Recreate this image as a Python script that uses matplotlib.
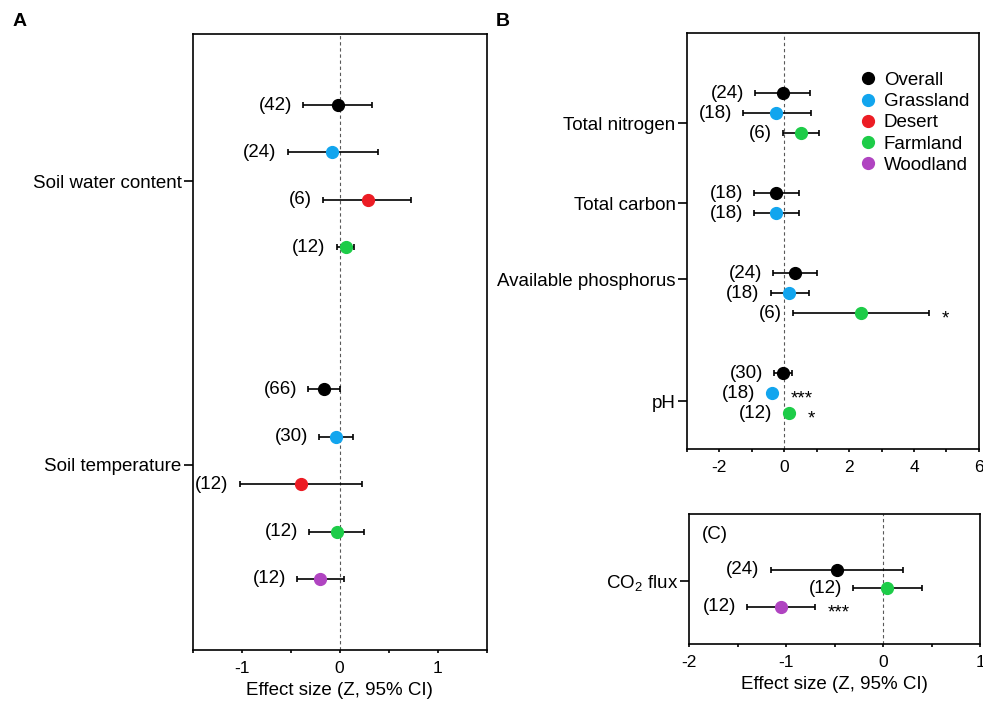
import numpy as np
import matplotlib
matplotlib.use('Agg')
import matplotlib.pyplot as plt
from matplotlib.lines import Line2D
from matplotlib.ticker import MultipleLocator

plt.rcParams['font.family'] = ['Liberation Sans', 'DejaVu Sans']
plt.rcParams['mathtext.default'] = 'regular'
plt.rcParams['axes.unicode_minus'] = False

colors = {'Overall': '#000000', 'Grassland': '#12A5EE', 'Desert': '#EC1C24',
          'Farmland': '#1DCC48', 'Woodland': '#B044C1'}

# ---- panel A ----
a_vars = ['Soil water content'] * 4 + ['Soil temperature'] * 5
a_groups = ['Overall', 'Grassland', 'Desert', 'Farmland',
            'Overall', 'Grassland', 'Desert', 'Farmland', 'Woodland']
a_n = [42, 24, 6, 12, 66, 30, 12, 12, 12]
a_mean = [-0.02, -0.08, 0.29, 0.06, -0.16, -0.04, -0.39, -0.03, -0.20]
a_lo = [-0.37, -0.53, -0.17, -0.03, -0.32, -0.21, -1.02, -0.31, -0.43]
a_hi = [0.33, 0.39, 0.73, 0.15, 0.00, 0.14, 0.23, 0.25, 0.04]
a_sig = [''] * 9

# ---- panel B ----
b_vars = ['Total nitrogen'] * 3 + ['Total carbon'] * 2 + ['Available phosphorus'] * 3 + ['pH'] * 3
b_groups = ['Overall', 'Grassland', 'Farmland', 'Overall', 'Grassland',
            'Overall', 'Grassland', 'Farmland', 'Overall', 'Grassland', 'Farmland']
b_n = [24, 18, 6, 18, 18, 24, 18, 6, 30, 18, 12]
b_mean = [-0.03, -0.24, 0.51, -0.24, -0.24, 0.34, 0.16, 2.36, -0.04, -0.37, 0.16]
b_lo = [-0.89, -1.27, -0.03, -0.93, -0.93, -0.34, -0.42, 0.28, -0.30, -0.37, 0.16]
b_hi = [0.80, 0.82, 1.07, 0.47, 0.47, 1.02, 0.76, 4.46, 0.24, -0.37, 0.16]
b_sig = ['', '', '', '', '', '', '', '*', '', '***', '*']

# ---- panel C ----
c_vars = ['CO$_2$ flux'] * 3
c_groups = ['Overall', 'Farmland', 'Woodland']
c_n = [24, 12, 12]
c_mean = [-0.47, 0.04, -1.05]
c_lo = [-1.16, -0.31, -1.40]
c_hi = [0.21, 0.40, -0.70]
c_sig = ['', '', '***']

MS = 8.5
FS = 13.5


def forest(ax, vars_, groups, n, mean, lo, hi, sig, tick_shift, gap=3):
    # row positions from top to bottom, bigger gap between variables
    ys = []
    y = 0
    prev = None
    for v in vars_:
        if prev is not None:
            y -= 1 if v == prev else gap
        ys.append(y)
        prev = v
    ys = np.array(ys) - min(ys) + 1

    ax.axvline(0, color='0.35', lw=0.8, ls=(0, (3, 2.5)), zorder=1)
    for i in range(len(mean)):
        c = colors[groups[i]]
        ax.errorbar(mean[i], ys[i], xerr=[[mean[i] - lo[i]], [hi[i] - mean[i]]], fmt='none',
                    ecolor='k', elinewidth=1.2, capsize=2.3, capthick=1.2, zorder=2)
        ax.plot(mean[i], ys[i], 'o', color=c, mec=c, ms=MS, zorder=3)
        no_ci = hi[i] == lo[i]
        off = 8 + (MS / 2 if no_ci else 0)
        ax.annotate('(%d)' % n[i], xy=(lo[i], ys[i]), xytext=(-off, 0), textcoords='offset points',
                    ha='right', va='center', fontsize=FS)
        if sig[i]:
            ax.annotate(sig[i], xy=(hi[i], ys[i]), xytext=(off + 1, -7.5), textcoords='offset points',
                        ha='left', va='baseline', fontsize=FS)

    names = list(dict.fromkeys(vars_))
    ticks = [ys[[j for j, v in enumerate(vars_) if v == nm]].mean() + s
             for nm, s in zip(names, tick_shift)]
    ax.set_yticks(ticks)
    ax.set_yticklabels(names, fontsize=FS)
    ax.tick_params(axis='y', length=6.5, width=1.2, pad=1.5)
    ax.tick_params(axis='x', which='both', length=2.5, width=1.2, labelsize=12.5, pad=5.5)
    for sp in ax.spines.values():
        sp.set_linewidth(1.2)


fig = plt.figure(figsize=(9.83, 7.01), dpi=100)
axA = fig.add_axes([0.196, 0.0728, 0.299, 0.8787])
axB = fig.add_axes([0.6986, 0.359, 0.2973, 0.5935])
axC = fig.add_axes([0.701, 0.0813, 0.296, 0.1855])

forest(axA, a_vars, a_groups, a_n, a_mean, a_lo, a_hi, a_sig, [-0.11, 0.41])
axA.set_xlim(-1.5, 1.5)
axA.set_ylim(-0.5, 12.5)
axA.xaxis.set_major_locator(MultipleLocator(1))
axA.xaxis.set_minor_locator(MultipleLocator(0.5))
axA.set_xlabel('Effect size (Z, 95% CI)', fontsize=FS, labelpad=4)

forest(axB, b_vars, b_groups, b_n, b_mean, b_lo, b_hi, b_sig, [-0.5, 0.0, 0.7, -0.4])
axB.set_xlim(-3, 6)
axB.set_ylim(-0.8, 20)
axB.xaxis.set_major_locator(MultipleLocator(2))
axB.xaxis.set_minor_locator(MultipleLocator(1))
handles = [Line2D([], [], marker='o', ls='none', color=c, mec=c, ms=MS) for c in colors.values()]
axB.legend(handles, list(colors.keys()), loc='upper left', bbox_to_anchor=(0.54, 0.93),
           frameon=False, fontsize=FS, handletextpad=0.1, labelspacing=0.22, borderpad=0,
           handlelength=1.5)

forest(axC, c_vars, c_groups, c_n, c_mean, c_lo, c_hi, c_sig, [0.4])
axC.set_xlim(-2, 1)
axC.set_ylim(-1, 6)
axC.xaxis.set_major_locator(MultipleLocator(1))
axC.xaxis.set_minor_locator(MultipleLocator(0.5))
axC.set_xlabel('Effect size (Z, 95% CI)', fontsize=FS, labelpad=4)
axC.text(0.044, 0.84, '(C)', transform=axC.transAxes, ha='left', va='center', fontsize=FS)

fig.text(20 / 983, 1 - 22 / 701, 'A', fontsize=14, fontweight='bold', ha='center', va='center')
fig.text(503 / 983, 1 - 22 / 701, 'B', fontsize=14, fontweight='bold', ha='center', va='center')

fig.savefig('out.png', dpi=100)
